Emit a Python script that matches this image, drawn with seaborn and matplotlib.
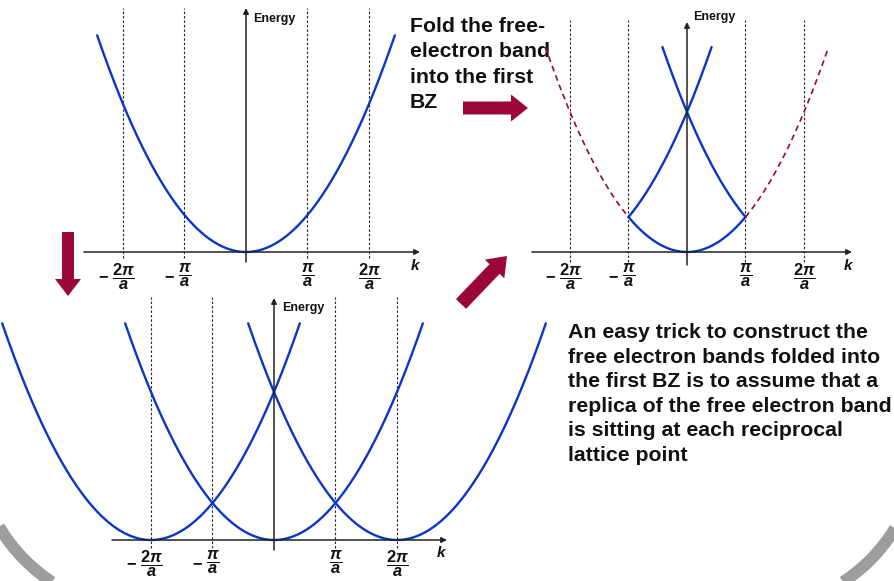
import numpy as np
import pandas as pd
import matplotlib
matplotlib.use("Agg")
import matplotlib.pyplot as plt
import seaborn as sns
from matplotlib.patches import FancyArrow

# ---------------------------------------------
# DATA  (k in units of pi/a, E = k^2 in arbitrary units)
# ---------------------------------------------
LATTICE_G = [-2, 0, 2]            # reciprocal lattice points
ZONE_LINES = [-2, -1, 1, 2]       # dashed guide lines
ZONE_LABELS = [r"$\dfrac{2\pi}{a}$", r"$\dfrac{\pi}{a}$",
               r"$\dfrac{\pi}{a}$", r"$\dfrac{2\pi}{a}$"]
BZ_EDGE = 1                       # first Brillouin zone boundary
K_REACH = 2.42                    # extent of each drawn parabola from its centre

FOLD_TEXT = "Fold the free-\nelectron band\ninto the first\nBZ"
TRICK_TEXT = ("An easy trick to construct the\nfree electron bands folded into\n"
              "the first BZ is to assume that a\nreplica of the free electron band\n"
              "is sitting at each reciprocal\nlattice point")

BLUE = "#0a35c8"
MAROON = "#9b0638"
W, H = 895, 581

sns.set_theme(style="white")
plt.rcParams["font.family"] = ["Liberation Sans", "DejaVu Sans"]
plt.rcParams["mathtext.fontset"] = "custom"
plt.rcParams["mathtext.rm"] = "Liberation Sans:bold"
plt.rcParams["mathtext.bf"] = "Liberation Sans:bold"
plt.rcParams["mathtext.sf"] = "Liberation Sans:bold"
plt.rcParams["mathtext.it"] = "Liberation Sans:bold:italic"


def band(center, k_lo, k_hi, n=300):
    k = np.linspace(k_lo, k_hi, n)
    return pd.DataFrame({"k": k, "E": (k - center) ** 2})


def panel(fig, lay):
    ox, oy = lay["origin"]
    ux, uy = lay["unit"]
    l, t, r, b = lay["box"]
    ax = fig.add_axes([l / W, 1 - b / H, (r - l) / W, (b - t) / H])
    ax.set_xlim((l - ox) / ux, (r - ox) / ux)
    ax.set_ylim((oy - b) / uy, (oy - t) / uy)
    ax.axis("off")
    kx = lambda x: (x - ox) / ux
    ey = lambda y: (oy - y) / uy

    # axes with arrow heads
    arrow = dict(arrowstyle="-|>", color="#222222", lw=1.1, mutation_scale=8,
                 shrinkA=0, shrinkB=0)
    ax.annotate("", xy=(kx(lay["kaxis"][1]), 0), xytext=(kx(lay["kaxis"][0]), 0),
                arrowprops=arrow)
    ax.annotate("", xy=(0, ey(lay["eaxis"][1])), xytext=(0, ey(lay["eaxis"][0])),
                arrowprops=arrow)
    # zone guide lines
    for k in ZONE_LINES:
        ax.plot([k, k], [ey(lay["dash"][0]), ey(lay["dash"][1])], color="#222222",
                lw=0.8, linestyle=(0, (2.2, 1.8)))
    # tick labels
    drop = lay["tick_top"] - oy
    for k, lab in zip(ZONE_LINES, ZONE_LABELS):
        ax.annotate(lab, xy=(k, 0), xytext=(0, -drop), textcoords="offset pixels",
                    ha="center", va="top", fontsize=11.8, color="#111111")
        if k < 0:
            ax.annotate(r"$-$", xy=(k, 0), xytext=(-10 if k == -1 else -14, -drop - 14),
                        textcoords="offset pixels", ha="right", va="center",
                        fontsize=11.8, color="#111111")
    ax.text(kx(lay["energy"][0]), ey(lay["energy"][1]), "Energy", ha="left",
            va="center", fontsize=9, fontweight="bold", color="#111111")
    ax.text(kx(lay["klabel"][0]), ey(lay["klabel"][1]), "k", ha="center",
            va="center", fontsize=11, fontweight="bold", style="italic",
            color="#111111")
    return ax


LAYOUTS = {
    "free": dict(origin=(246, 252), unit=(61.5, 37), box=(60, 0, 440, 300),
                 kaxis=(84, 420), eaxis=(262, 8), dash=(258, 8), energy=(253, 19),
                 klabel=(415, 266), tick_top=262),
    "folded": dict(origin=(687, 252), unit=(58.5, 35), box=(500, 0, 895, 300),
                   kaxis=(532, 852), eaxis=(265, 22), dash=(262, 20), energy=(693, 17),
                   klabel=(848, 266), tick_top=262),
    "replica": dict(origin=(274, 540), unit=(61.5, 37), box=(0, 285, 560, 581),
                    kaxis=(112, 447), eaxis=(550, 298), dash=(548, 297), energy=(282, 308),
                    klabel=(441, 553), tick_top=549),
}

fig = plt.figure(figsize=(W / 100, H / 100), dpi=100)
fig.patch.set_facecolor("white")

# overlay in pixel coordinates for slide decorations
deco = fig.add_axes([0, 0, 1, 1])
deco.set_xlim(0, W)
deco.set_ylim(H, 0)
deco.axis("off")

# rounded slide frame: only the two bottom corners are visible
R = 167
for cx, th0, th1 in [(143, 90, 180), (752, 0, 90)]:
    th = np.radians(np.linspace(th0, th1, 120))
    deco.plot(cx + R * np.cos(th), 442 + R * np.sin(th), color="#9d9d9d",
              lw=8.6, solid_capstyle="butt")

deco.add_patch(FancyArrow(463, 108, 65, 0, width=13, head_width=27, head_length=17,
                          length_includes_head=True, color=MAROON, lw=0))
deco.add_patch(FancyArrow(68, 232, 0, 64, width=12, head_width=26, head_length=17,
                          length_includes_head=True, color=MAROON, lw=0))
deco.add_patch(FancyArrow(461, 304, 46, -48, width=14, head_width=27, head_length=18,
                          length_includes_head=True, color=MAROON, lw=0))
deco.text(410, 17, FOLD_TEXT, ha="left", va="top", fontsize=15.3,
          fontweight="bold", color="#111111", linespacing=1.43)
deco.text(568, 323, TRICK_TEXT, ha="left", va="top", fontsize=15.3,
          fontweight="bold", color="#111111", linespacing=1.37)

# 1) free-electron parabola
ax1 = panel(fig, LAYOUTS["free"])
sns.lineplot(data=band(0, -K_REACH, K_REACH), x="k", y="E", ax=ax1, color=BLUE,
             lw=1.7, sort=False, estimator=None)

# 2) folded into first BZ
ax2 = panel(fig, LAYOUTS["folded"])
for g in LATTICE_G:
    if g == 0:
        seg = band(0, -BZ_EDGE, BZ_EDGE)
    elif g < 0:
        seg = band(g, -BZ_EDGE, g + K_REACH)
    else:
        seg = band(g, g - K_REACH, BZ_EDGE)
    sns.lineplot(data=seg, x="k", y="E", ax=ax2, color=BLUE, lw=1.7,
                 sort=False, estimator=None)
for lo, hi in [(-K_REACH, -BZ_EDGE), (BZ_EDGE, K_REACH)]:
    sns.lineplot(data=band(0, lo, hi), x="k", y="E", ax=ax2, color=MAROON,
                 lw=1.2, linestyle=(0, (3.5, 2.5)), sort=False, estimator=None)

# 3) replicas at each reciprocal lattice point
ax3 = panel(fig, LAYOUTS["replica"])
for g in LATTICE_G:
    sns.lineplot(data=band(g, g - K_REACH, g + K_REACH), x="k", y="E", ax=ax3,
                 color=BLUE, lw=1.7, sort=False, estimator=None)

for a in (ax1, ax2, ax3):
    a.set_xlabel("")
    a.set_ylabel("")

fig.savefig("out.png", dpi=100, facecolor="white")
